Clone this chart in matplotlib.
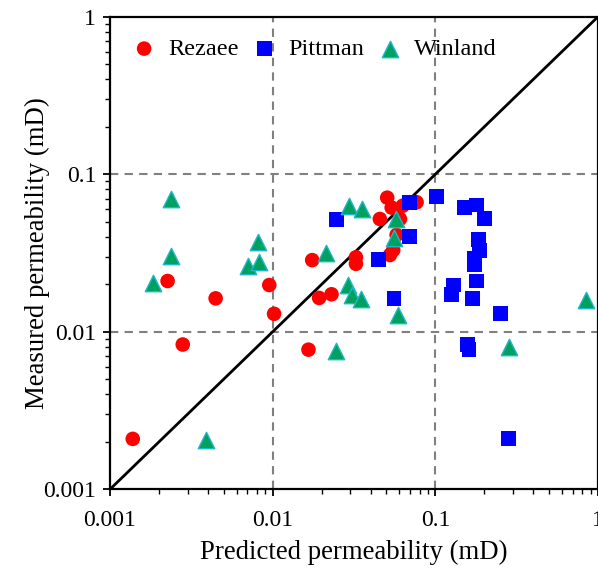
import matplotlib
matplotlib.use("Agg")
import matplotlib.pyplot as plt
from matplotlib.ticker import LogLocator, FixedLocator, FixedFormatter, NullFormatter

plt.rcParams['font.family'] = ['Liberation Serif', 'DejaVu Serif']

# Rezaee model (red circles)
rezaee_pred = [0.00138, 0.00226, 0.00446, 0.0028, 0.00953, 0.0102, 0.0166, 0.0175,
               0.0193, 0.0230, 0.0325, 0.0325, 0.0506, 0.0539, 0.0456, 0.0632,
               0.0767, 0.0606, 0.0578, 0.0551, 0.0526]
rezaee_meas = [0.00209, 0.0210, 0.0163, 0.0083, 0.0198, 0.0130, 0.0077, 0.0285,
               0.0164, 0.0173, 0.0297, 0.0270, 0.0710, 0.0614, 0.0520, 0.0632,
               0.0664, 0.0520, 0.0412, 0.0330, 0.0307]

# Pittman model (blue squares)
pittman_pred = [0.0247, 0.0446, 0.0557, 0.0698, 0.0698, 0.1018, 0.1505, 0.1794,
                0.2018, 0.1835, 0.188, 0.1751, 0.1751, 0.1794, 0.1288, 0.126,
                0.1686, 0.2505, 0.157, 0.161, 0.282]
pittman_meas = [0.0513, 0.0286, 0.0163, 0.0664, 0.0402, 0.0721, 0.0617, 0.0638,
                0.0526, 0.0383, 0.0330, 0.0293, 0.0266, 0.0210, 0.0198, 0.0173,
                0.0163, 0.0130, 0.00825, 0.00767, 0.00211]

# Winland model (green triangles)
winland_pred = [0.00185, 0.00237, 0.00237, 0.00389, 0.00702, 0.00827, 0.0081, 0.0213,
                0.0245, 0.0294, 0.0352, 0.0292, 0.0306, 0.0347, 0.0572, 0.0557,
                0.0591, 0.2845, 0.842]
winland_meas = [0.0205, 0.0303, 0.0697, 0.00206, 0.0262, 0.0279, 0.0373, 0.0318,
                0.00755, 0.0629, 0.0599, 0.0198, 0.0171, 0.0161, 0.0520, 0.0396,
                0.0128, 0.00804, 0.0159]

tick_vals = [0.001, 0.01, 0.1, 1]
tick_labels = ["0.001", "0.01", "0.1", "1"]
line_1to1 = [0.001, 1]

fig = plt.figure(figsize=(5.98, 5.72), dpi=100)
ax = fig.add_axes([110/598, 1-489.3/572, 488/598, (489.3-16.7)/572])
ax.set_xscale('log')
ax.set_yscale('log')
ax.set_xlim(0.001, 1)
ax.set_ylim(0.001, 1)

# grid at 0.01 and 0.1
for v in [0.01, 0.1]:
    ax.axvline(v, color='#808080', ls=(0, (4, 3)), lw=1.5, zorder=1)
    ax.axhline(v, color='#808080', ls=(0, (4, 3)), lw=1.5, zorder=1)

ax.plot(line_1to1, line_1to1, color='black', lw=2, zorder=2)

ax.scatter(rezaee_pred, rezaee_meas, s=110, marker='o', color='#FF0000',
           edgecolors='none', label='Rezaee', zorder=3)
ax.scatter(pittman_pred, pittman_meas, s=115, marker='s', color='#0000FF',
           edgecolors='none', label='Pittman', zorder=4)
ax.scatter(winland_pred, winland_meas, s=140, marker='^', color='#00A060',
           edgecolors='#20B8C8', linewidths=1.0, label='Winland', zorder=5)

ax.xaxis.set_major_locator(FixedLocator(tick_vals))
ax.xaxis.set_major_formatter(FixedFormatter(tick_labels))
ax.yaxis.set_major_locator(FixedLocator(tick_vals))
ax.yaxis.set_major_formatter(FixedFormatter(tick_labels))
ax.xaxis.set_minor_locator(LogLocator(base=10, subs=range(2, 10), numticks=20))
ax.yaxis.set_minor_locator(LogLocator(base=10, subs=range(2, 10), numticks=20))
ax.xaxis.set_minor_formatter(NullFormatter())
ax.yaxis.set_minor_formatter(NullFormatter())

ax.tick_params(which='major', direction='out', length=5, width=1.3,
               labelsize=17, top=False, right=False, colors='black')
ax.tick_params(axis='x', which='major', pad=10)
ax.tick_params(axis='y', which='major', pad=5)
ax.tick_params(which='minor', direction='out', length=3.5, width=1.0,
               top=False, right=False)

for sp in ax.spines.values():
    sp.set_linewidth(1.6)
    sp.set_color('black')

ax.set_xlabel('Predicted permeability (mD)', fontsize=19.3, labelpad=6)
ax.set_ylabel('Measured permeability (mD)', fontsize=19.3)
ax.yaxis.set_label_coords((50 - 110) / 488, 0.5)

leg = ax.legend(loc='upper left', bbox_to_anchor=(0.045, 0.955), ncol=3,
                frameon=False, fontsize=17.5, handlelength=1.0, handletextpad=0.5,
                columnspacing=0.55, borderaxespad=0, borderpad=0,
                scatterpoints=1)

fig.savefig('out.png', dpi=100)
